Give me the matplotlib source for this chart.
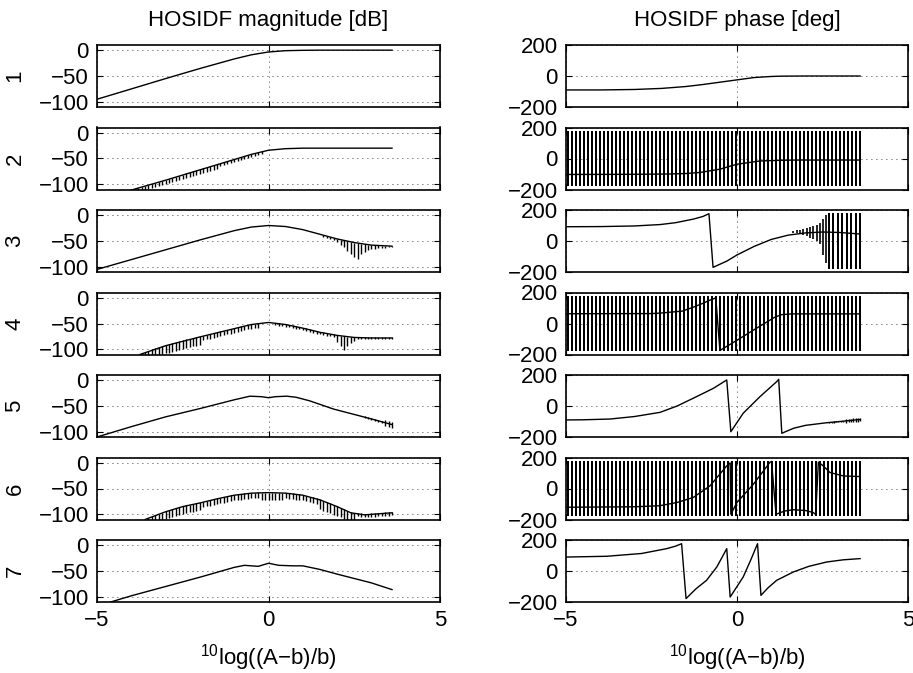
import numpy as np
import matplotlib.pyplot as plt

plt.rcParams['font.family'] = ['Liberation Sans', 'DejaVu Sans']
plt.rcParams['mathtext.fontset'] = 'custom'
plt.rcParams['mathtext.rm'] = 'Liberation Sans'
plt.rcParams['mathtext.default'] = 'regular'

# ---- magnitude curves [dB] ----
mag1_x = [-5, -4, -3, -2, -1, -0.5, 0, 0.5, 1, 1.5, 3.6]
mag1_y = [-95, -75, -55, -35.5, -17, -9, -3.5, -1, -0.3, 0, 0]

mag2_x = [-4.05, -3, -2, -1, -0.5, 0, 0.5, 1, 1.5, 3.6]
mag2_y = [-112, -92, -72, -52, -42, -34, -31, -30, -30, -30]

mag3_x = [-5, -4, -3, -2, -1, -0.5, 0, 0.5, 1, 1.5, 2, 2.5, 3, 3.6]
mag3_y = [-105, -86, -67, -48, -30, -23, -20, -22, -28, -37, -46, -53, -58, -60]

mag4_x = [-3.75, -3, -2, -1, -0.5, 0, 0.5, 1, 1.5, 2, 2.5, 3, 3.6]
mag4_y = [-110, -93, -76, -60, -52, -48, -52, -59, -67, -73, -77, -78, -78]

mag5_x = [-5, -4, -3, -2, -1, -0.54, -0.2, 0, 0.2, 0.53, 0.8, 1.2, 1.9, 3, 3.6]
mag5_y = [-110, -90, -71, -55, -38, -31, -32, -34, -32, -31, -33, -40, -56, -75, -86]

mag6_x = [-3.6, -3, -2.5, -2, -1.5, -1, -0.5, 0, 0.5, 1, 1.5, 2, 2.4, 2.8, 3.2, 3.6]
mag6_y = [-110, -95, -85, -78, -70, -63, -59, -58, -59, -63, -72, -85, -97, -101, -99, -97]

mag7_x = [-4.6, -4, -3, -2, -1, -0.7, -0.3, 0, 0.3, 0.7, 1, 1.5, 2, 3, 3.6]
mag7_y = [-110, -98, -80, -62, -43, -39, -41, -35, -39, -40, -40, -47, -56, -73, -86]

# ---- phase curves [deg] ----
ph1_x = [-5, -4, -3, -2.2, -1.5, -1, -0.5, 0, 0.5, 1, 1.3, 2, 3.6]
ph1_y = [-90, -90, -87, -80, -68, -55, -40, -25, -10, -3, -1, 0, 0]

ph2_x = [-5, -3, -2, -1.5, -1.08, -0.5, 0, 0.67, 1.2, 1.65, 3.6]
ph2_y = [-103, -102, -100, -97, -90, -69, -37, -16, -12, -10, -10]

ph3_x = [-5, -4, -3, -2.25, -1.8, -1.28, -1, -0.82, -0.7, -0.3, 0, 0.5, 1, 1.5, 2, 2.5, 3, 3.6]
ph3_y = [92, 93, 97, 106, 118, 141, 158, 176, -170, -130, -90, -35, 10, 38, 52, 58, 55, 45]

ph4_x = [-5, -2.5, -2.25, -1.6, -1.28, -1, -0.8, -0.62, -0.5, 0, 0.5, 0.8, 1.1, 1.3, 1.6, 3.6]
ph4_y = [63, 64, 67, 80, 105, 130, 150, 165, -174, -108, -40, 0, 40, 57, 62, 62]

ph5_x = [-5, -4.5, -3.71, -3, -2.25, -1.75, -1.28, -0.69, -0.3, -0.18, 0.18, 0.67, 1.16, 1.22,
         1.31, 1.65, 2.0, 2.62, 3.0, 3.6]
ph5_y = [-90, -89, -84, -68, -41, 0, 50, 114, 168, -166, -47, 60, 157, 172,
         -176, -144, -125, -108, -100, -87]

ph6_x = [-5, -3, -2.25, -1.75, -1.28, -0.79, -0.3, -0.2, -0.18, 0, 0.48, 0.96, 1.01, 1.14,
         1.4, 1.65, 2.0, 2.23, 2.3, 2.38, 2.52, 2.72, 3.11, 3.6]
ph6_y = [-121, -118, -111, -90, -58, 17, 146, 165, -166, -90, 28, 168, 175, -166,
         -145, -137, -142, -155, -168, 170, 146, 103, 81, 77]

ph7_x = [-5, -3.81, -2.79, -2.06, -1.8, -1.62, -1.49, -1.2, -0.89, -0.59, -0.3, -0.2, 0.18, 0.4,
         0.6, 0.7, 0.9, 1.16, 1.65, 2.1, 2.62, 3.1, 3.6]
ph7_y = [90, 95, 113, 144, 160, 176, -178, -115, -60, 26, 144, -168, -39, 70,
         176, -157, -110, -60, -6, 30, 58, 72, 80]

# ---- numerical-noise hatching ----
# magnitude: (x start, x end, dB below curve, dB above curve)
mag2_hatch = [(-4.0, -1.5, 8, 1), (-1.4, -0.2, 5, 1)]
mag4_hatch = [(-3.7, -2.0, 15, 2), (-1.9, -0.3, 8, 1), (0.2, 1.9, 4, 1), (2.6, 3.6, 2, 1)]
mag5_hatch = [(2.8, 3.3, 2, 2), (3.4, 3.6, 6, 5)]
mag6_hatch = [(-3.5, -2.0, 14, 1), (-1.9, -0.3, 10, 1), (-0.2, 0.4, 14, 0),
              (0.5, 1.4, 10, 1), (1.5, 2.5, 18, 1), (2.6, 3.6, 5, 2)]
# single deep ticks: x and lower end [dB]
mag3_tick_x = [1.6, 1.7, 1.8, 1.9, 2.0, 2.1, 2.2, 2.3, 2.4, 2.5, 2.6, 2.7, 2.8, 2.9, 3.0,
               3.1, 3.2, 3.3, 3.4, 3.5, 3.6]
mag3_tick_lo = [-42, -44, -46, -49, -52, -57, -62, -70, -76, -80, -84, -76, -72, -68, -66,
                -65, -64, -63, -63, -62, -62]
mag4_tick_x = [2.0, 2.1, 2.2, 2.3, 2.4, 2.5]
mag4_tick_lo = [-86, -94, -102, -93, -88, -83]

# phase: full +-180 wrap lines (x start, x end, line count)
ph2_wrap = (-4.95, 3.6, 74)
ph3_wrap = (2.68, 3.6, 8)
ph4_wrap = (-4.95, 3.6, 74)
ph6_wrap = (-4.95, 3.6, 74)
# phase 3 growing oscillation before the wrap lines
ph3_osc_x = [1.65, 1.75, 1.84, 1.94, 2.04, 2.14, 2.23, 2.33, 2.43, 2.52, 2.6]
ph3_osc_lo = [52, 50, 46, 40, 31, 22, 14, 0, -18, -92, -140]
ph3_osc_hi = [67, 70, 73, 77, 81, 88, 94, 105, 119, 141, 165]
# phase 5: (x start, x end, half width [deg])
ph5_hatch = [(2.7, 3.1, 4), (3.2, 3.6, 12)]

mag_x = [mag1_x, mag2_x, mag3_x, mag4_x, mag5_x, mag6_x, mag7_x]
mag_y = [mag1_y, mag2_y, mag3_y, mag4_y, mag5_y, mag6_y, mag7_y]
ph_x = [ph1_x, ph2_x, ph3_x, ph4_x, ph5_x, ph6_x, ph7_x]
ph_y = [ph1_y, ph2_y, ph3_y, ph4_y, ph5_y, ph6_y, ph7_y]

W, H = 913, 673
fig = plt.figure(figsize=(W / 100, H / 100), dpi=100)
FS = 16


def style(ax, ylim, yticks, bottom):
    ax.set_xlim(-5, 5)
    ax.set_xticks([-5, 0, 5])
    ax.set_ylim(ylim)
    ax.set_yticks(yticks)
    ax.grid(True, color='k', linestyle=(0, (1, 5)), linewidth=0.6)
    ax.tick_params(direction='in', length=4, width=0.8, top=True, right=True,
                   labelsize=FS, pad=6)
    if not bottom:
        ax.set_xticklabels([])
    for s in ax.spines.values():
        s.set_linewidth(1.2)


def band_hatch(ax, cx, cy, spec, step=0.1):
    for x0, x1, below, above in spec:
        n = int(round((x1 - x0) / step)) + 1
        hx = np.linspace(x0, x1, n)
        hy = np.interp(hx, cx, cy)
        ax.vlines(hx, hy - below, hy + above, color='k', lw=1.0)


for i in range(7):
    top = 45 + 82.5 * i
    b = 1 - (top + 62) / H
    axm = fig.add_axes([97 / W, b, 343 / W, 62 / H])
    axp = fig.add_axes([566 / W, b, 342 / W, 62 / H])
    last = i == 6

    # magnitude
    if i == 1:
        band_hatch(axm, mag2_x, mag2_y, mag2_hatch)
    if i == 2:
        axm.vlines(mag3_tick_x, mag3_tick_lo, np.interp(mag3_tick_x, mag3_x, mag3_y),
                   color='k', lw=1.0)
    if i == 3:
        band_hatch(axm, mag4_x, mag4_y, mag4_hatch)
        axm.vlines(mag4_tick_x, mag4_tick_lo, np.interp(mag4_tick_x, mag4_x, mag4_y),
                   color='k', lw=1.0)
    if i == 4:
        band_hatch(axm, mag5_x, mag5_y, mag5_hatch)
    if i == 5:
        band_hatch(axm, mag6_x, mag6_y, mag6_hatch)
    axm.plot(mag_x[i], mag_y[i], color='k', lw=1.0)
    style(axm, (-110, 10), [-100, -50, 0], last)

    # phase
    for k, wrap in ((1, ph2_wrap), (2, ph3_wrap), (3, ph4_wrap), (5, ph6_wrap)):
        if i == k:
            axp.vlines(np.linspace(*wrap), -180, 180, color='k', lw=1.44, snap=True)
    if i == 2:
        axp.vlines(ph3_osc_x, ph3_osc_lo, ph3_osc_hi, color='k', lw=1.2)
    if i == 4:
        for x0, x1, half in ph5_hatch:
            n = int(round((x1 - x0) / 0.07)) + 1
            hx = np.linspace(x0, x1, n)
            hy = np.interp(hx, ph5_x, ph5_y)
            axp.vlines(hx, hy - half, hy + half, color='k', lw=1.0)
    axp.plot(ph_x[i], ph_y[i], color='k', lw=1.0)
    style(axp, (-200, 200), [-200, 0, 200], last)

    fig.text(15 / W, 1 - (top + 31) / H, str(i + 1), rotation=90,
             ha='center', va='center', fontsize=FS)

    if i == 0:
        axm.set_title('HOSIDF magnitude [dB]', fontsize=FS, pad=14)
        axp.set_title('HOSIDF phase [deg]', fontsize=FS, pad=14)
    if last:
        axm.set_xlabel('$^{10}$log((A\u2212b)/b)', fontsize=FS, labelpad=8)
        axp.set_xlabel('$^{10}$log((A\u2212b)/b)', fontsize=FS, labelpad=8)

fig.savefig('out.png', dpi=100)
